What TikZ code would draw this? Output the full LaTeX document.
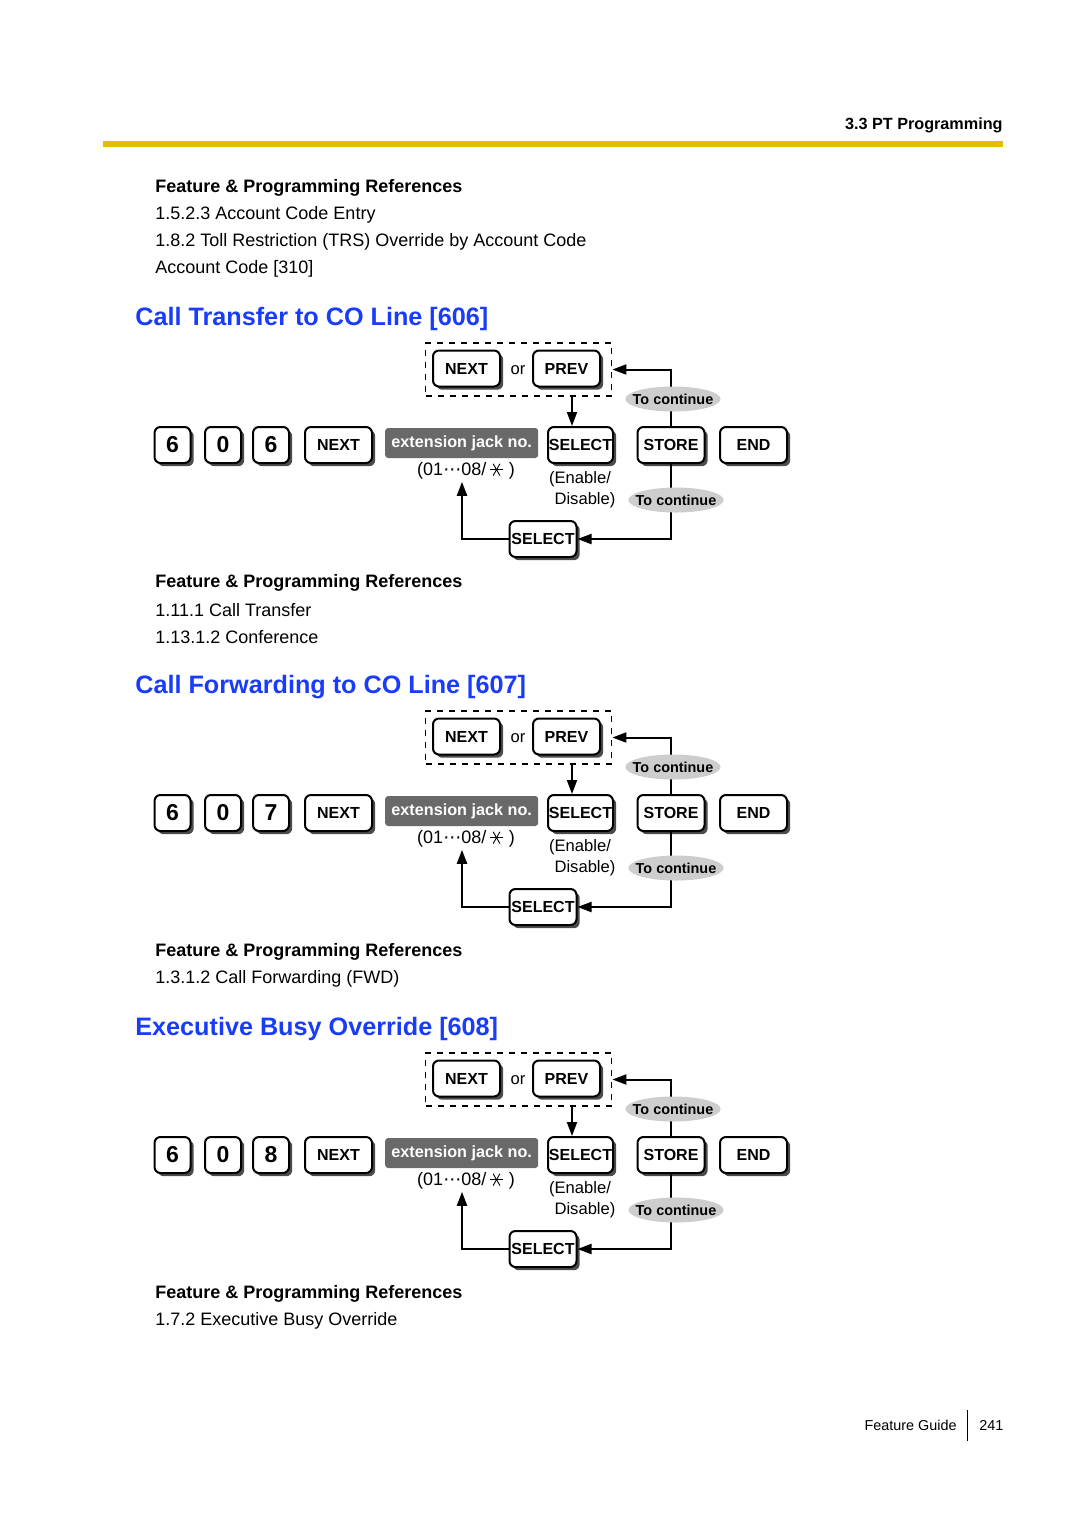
\documentclass[tikz,border=0pt]{standalone}
\usepackage{fontspec}
\setmainfont{Liberation Sans}
\newfontfamily\symfont{DejaVu Sans}
\usetikzlibrary{shapes.geometric,shadows,arrows.meta}

\definecolor{titleblue}{RGB}{25,60,250}
\definecolor{rulegold}{RGB}{225,190,0}
\definecolor{jackgray}{RGB}{105,105,105}
\definecolor{ovalgray}{RGB}{205,205,205}

% six-spoked star of the jack range
\newcommand{\sxstar}{\tikz[x=1pt,y=1pt,baseline=-3pt,line width=0.45pt]{\foreach \a in {0,60,120} \draw (\a:3.4) -- (\a+180:3.4);}}

\tikzset{
  key/.style={draw, line width=1pt, rounded corners=3pt, fill=white, minimum height=18pt, inner sep=0pt,
    font=\bfseries\fontsize{8}{9}\selectfont,
    drop shadow={shadow xshift=1.6pt, shadow yshift=-1.6pt, fill=black!70, opacity=1}},
  digit/.style={key, minimum width=18pt, font=\bfseries\fontsize{11.5}{12}\selectfont},
  wkey/.style={key, minimum width=33.5pt},
  jack/.style={fill=jackgray, rounded corners=1.5pt, text=white, inner sep=0pt,
    minimum width=76.5pt, minimum height=15pt, font=\bfseries\fontsize{8.1}{9}\selectfont},
  cont/.style={ellipse, fill=ovalgray, inner xsep=-3.3pt, inner ysep=1.2pt, minimum height=12.5pt,
    font=\bfseries\fontsize{7.2}{8}\selectfont},
  dashbox/.style={draw, dashed, line width=0.9pt, minimum width=93pt, minimum height=26.5pt},
  arr/.style={line width=1pt, -{Triangle[length=7pt,width=5pt]}},
  txt/.style={anchor=west, inner sep=0pt, font=\fontsize{9}{11}\selectfont},
  hd/.style={txt, font=\bfseries\fontsize{9}{11}\selectfont},
  ttl/.style={anchor=west, inner sep=0pt, text=titleblue, font=\bfseries\fontsize{12.6}{14}\selectfont},
  small/.style={inner sep=0pt, font=\fontsize{8.3}{9}\selectfont}
}

\begin{document}
\begin{tikzpicture}[x=0.5pt, y=-0.5pt]
  \useasboundingbox (0,0) rectangle (1080,1528);

  % Header and footer
  \node[anchor=east, inner sep=0pt, font=\bfseries\fontsize{8.1}{9}\selectfont] (head) at (1003,125) {3.3 PT Programming};
  \draw[rulegold, line width=3pt] (103,144) -- (1003,144);
  \node[anchor=east, inner sep=0pt, font=\fontsize{7.2}{8}\selectfont] (guide) at (957,1425) {Feature Guide};
  \node[anchor=west, inner sep=0pt, font=\fontsize{7.2}{8}\selectfont] (page) at (979,1425) {241};
  \draw[line width=0.5pt] (967,1410) -- (967,1441);

  % References and titles
  \node[hd] (ref0) at (155,188) {Feature \& Programming References};
  \node[txt] (ref0a) at (155,215) {1.5.2.3 Account Code Entry};
  \node[txt] (ref0b) at (155,242) {1.8.2 Toll Restriction (TRS) Override by Account Code};
  \node[txt] (ref0c) at (155,269) {Account Code [310]};

  \node[ttl] (title6) at (135,319) {Call Transfer to CO Line [606]};
  \node[hd] (ref6) at (155,583) {Feature \& Programming References};
  \node[txt] (ref6a) at (155,610) {1.11.1 Call Transfer};
  \node[txt] (ref6b) at (155,637) {1.13.1.2 Conference};

  \node[ttl] (title7) at (135,687) {Call Forwarding to CO Line [607]};
  \node[hd] (ref7) at (155,952) {Feature \& Programming References};
  \node[txt] (ref7a) at (155,979) {1.3.1.2 Call Forwarding (FWD)};

  \node[ttl] (title8) at (135,1029) {Executive Busy Override [608]};
  \node[hd] (ref8) at (155,1294) {Feature \& Programming References};
  \node[txt] (ref8a) at (155,1321) {1.7.2 Executive Busy Override};

  % Key sequences
  \foreach \dy/\d in {0/6, 368/7, 710/8} {
    \begin{scope}[shift={(0,\dy)}]
      \node[dashbox] (box\d) at (518.5,369.5) {};
      \node[wkey] (tnext\d) at (466.5,368.5) {NEXT};
      \node[small] (or\d) at (518,370) {or};
      \node[wkey] (tprev\d) at (566.5,368.5) {PREV};

      \node[digit] (da\d) at (172.5,445) {6};
      \node[digit] (db\d) at (223,445) {0};
      \node[digit] (dc\d) at (271,445) {\d};
      \node[wkey] (next\d) at (338.5,445) {NEXT};
      \node[jack] (jack\d) at (461.7,443) {extension jack no.};
      \node[key, minimum width=32.5pt] (sel\d) at (580.5,445) {SELECT};
      \node[wkey] (store\d) at (671,445) {STORE};
      \node[wkey] (end\d) at (753.5,445) {END};
      \node[key, minimum width=33.5pt] (back\d) at (543,539) {SELECT};

      \node[small, font=\fontsize{9}{10}\selectfont] (range\d) at (466,471) {(01{\symfont ⋯}08/\,\sxstar\ )};
      \node[small] (en\d) at (580,479) {(Enable/};
      \node[small] (dis\d) at (585,500) {Disable)};

      \coordinate (dn\d) at (572,396);
      \draw[arr] (dn\d) -- (dn\d |- sel\d.north);
      \draw[arr] (store\d.north) |- (box\d.east);
      \draw[arr] (store\d.south) |- (back\d.east);
      \draw[arr] (back\d.west) -| ([xshift=-2pt,yshift=-1pt]range\d.south);

      \node[cont] (conta\d) at (673,399) {To continue};
      \node[cont] (contb\d) at (676,500) {To continue};
    \end{scope}
  }
\end{tikzpicture}
\end{document}
